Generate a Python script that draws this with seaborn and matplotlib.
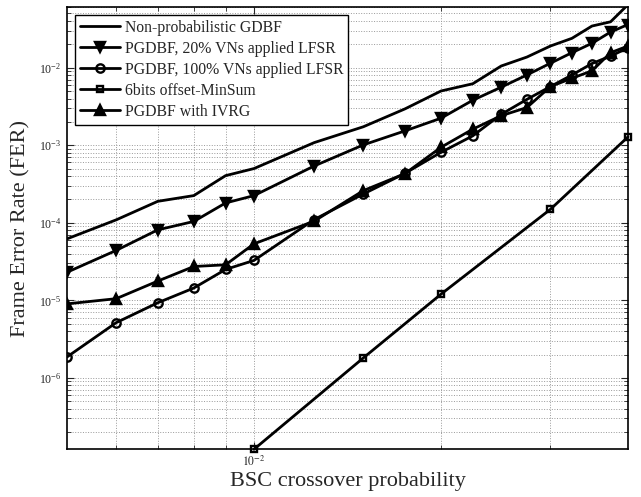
import matplotlib
matplotlib.use('Agg')
import matplotlib.pyplot as plt
import matplotlib.ticker as ticker
import seaborn as sns

# BSC crossover probabilities
p = [0.005, 0.006, 0.007, 0.008, 0.009, 0.01, 0.0125, 0.015, 0.0175, 0.02,
     0.0225, 0.025, 0.0275, 0.03, 0.0325, 0.035, 0.0375, 0.04]
p_minsum = [0.01, 0.015, 0.02, 0.03, 0.04]

fer_gdbf = [6.2e-5, 1.09e-4, 1.89e-4, 2.24e-4, 4.05e-4, 5.0e-4, 1.08e-3, 1.73e-3, 2.94e-3,
            5.0e-3, 6.2e-3, 1.05e-2, 1.37e-2, 1.9e-2, 2.39e-2, 3.44e-2, 3.9e-2, 6.5e-2]
fer_pgdbf20 = [2.3e-5, 4.4e-5, 8.1e-5, 1.04e-4, 1.8e-4, 2.24e-4, 5.4e-4, 1.01e-3, 1.53e-3,
               2.23e-3, 3.8e-3, 5.6e-3, 8.05e-3, 1.14e-2, 1.56e-2, 2.06e-2, 2.88e-2, 3.6e-2]
fer_pgdbf100 = [1.86e-6, 5.15e-6, 9.3e-6, 1.44e-5, 2.5e-5, 3.27e-5, 1.1e-4, 2.35e-4, 4.34e-4,
                8.1e-4, 1.32e-3, 2.5e-3, 3.9e-3, 5.7e-3, 8.05e-3, 1.13e-2, 1.41e-2, 1.8e-2]
fer_minsum = [1.2e-7, 1.81e-6, 1.2e-5, 1.49e-4, 1.28e-3]
fer_ivrg = [9.0e-6, 1.05e-5, 1.77e-5, 2.73e-5, 2.87e-5, 5.35e-5, 1.05e-4, 2.6e-4, 4.3e-4,
            9.4e-4, 1.61e-3, 2.4e-3, 3.06e-3, 5.7e-3, 7.3e-3, 9.1e-3, 1.56e-2, 1.9e-2]

labels = ['Non-probabilistic GDBF', 'PGDBF, 20% VNs applied LFSR',
          'PGDBF, 100% VNs applied LFSR', '6bits offset-MinSum', 'PGDBF with IVRG']

sns.set_style("ticks")
plt.rcParams['font.family'] = ['Liberation Serif', 'DejaVu Serif']
plt.rcParams['mathtext.fontset'] = 'stix'

fig = plt.figure(figsize=(6.41, 4.97), dpi=100)
ax = fig.add_axes([0.1045, 0.096, 0.8752, 0.8893])

series = [
    (p, fer_gdbf, None, 'black', 0),
    (p, fer_pgdbf20, 'v', 'black', 6.5),
    (p, fer_pgdbf100, 'o', 'none', 6),
    (p_minsum, fer_minsum, 's', 'none', 5),
    (p, fer_ivrg, '^', 'black', 6.5),
]
for (xs, ys, mk, fc, ms), lab in zip(series, labels):
    sns.lineplot(x=xs, y=ys, ax=ax, color='black', lw=2, marker=mk, ms=ms,
                 mfc=fc, mec='black', mew=1.7, label=lab, clip_on=(mk != 's'))

ax.set_xscale('log')
ax.set_yscale('log')
ax.set_xlim(0.005, 0.04)
ax.set_ylim(1.2e-7, 0.06)

ax.xaxis.set_major_locator(ticker.FixedLocator([0.01]))
ax.xaxis.set_major_formatter(ticker.FixedFormatter([r'$10^{-2}$']))
ax.xaxis.set_minor_locator(ticker.FixedLocator([0.006, 0.007, 0.008, 0.009, 0.02, 0.03]))
ax.xaxis.set_minor_formatter(ticker.NullFormatter())
ax.yaxis.set_major_locator(ticker.LogLocator(base=10))
ax.yaxis.set_major_formatter(ticker.LogFormatterMathtext())
ax.yaxis.set_minor_locator(ticker.LogLocator(base=10, subs=range(2, 10), numticks=20))
ax.yaxis.set_minor_formatter(ticker.NullFormatter())

ax.grid(True, which='both', ls=':', color='0.6', lw=0.7)
ax.tick_params(which='both', direction='in', top=True, right=True, labelsize=8.5, pad=4)
ax.tick_params(which='major', length=5)
ax.tick_params(which='minor', length=3)
for s in ax.spines.values():
    s.set_color('black')
    s.set_linewidth(1.2)

ax.set_xlabel('BSC crossover probability', fontsize=16, labelpad=2)
ax.set_ylabel('Frame Error Rate (FER)', fontsize=16, labelpad=6)

leg = ax.legend(loc='upper left', fontsize=11.3, frameon=True, fancybox=False,
                edgecolor='black', framealpha=1, handlelength=2.6, handletextpad=0.3,
                labelspacing=0.32, borderpad=0.3, borderaxespad=0.5)
leg.get_frame().set_linewidth(1.0)

fig.savefig('out.png', dpi=100)
